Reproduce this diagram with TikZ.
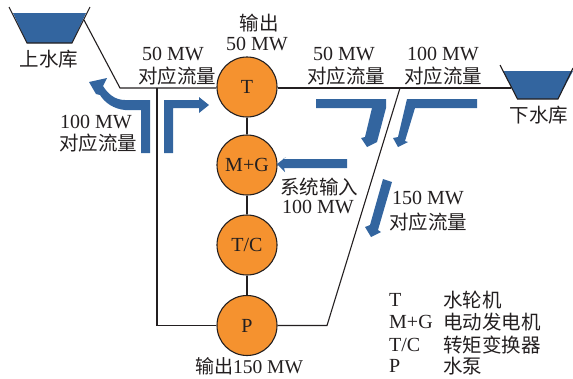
\documentclass[tikz,border=0pt]{standalone}
\usepackage{fontspec}
\setmainfont{Liberation Serif}
\newfontfamily\cjk{Noto Sans CJK SC}
\definecolor{ink}{HTML}{231F20}
\definecolor{flowblue}{HTML}{33659F}
\definecolor{unitorange}{HTML}{F5922F}
\tikzset{
  unit/.style={circle,draw=ink,fill=unitorange,line width=1.1pt,minimum size=60pt,inner sep=0pt,text=ink,font=\fontsize{20}{20}\selectfont},
  pipe/.style={draw=ink,line width=1.1pt,line join=miter},
  flow/.style={fill=flowblue,draw=none},
  lab/.style={inner sep=0pt,text=ink,font=\fontsize{20}{20}\selectfont},
  cn/.style={inner sep=0pt,text=ink,font=\cjk\fontsize{19.5}{19.5}\selectfont},
  legl/.style={inner sep=0pt,anchor=west,text=ink,font=\fontsize{20}{20}\selectfont},
  legc/.style={inner sep=0pt,anchor=west,text=ink,font=\cjk\fontsize{19.5}{19.5}\selectfont},
}
\begin{document}
\begin{tikzpicture}[x=1pt,y=-1pt]
\useasboundingbox (0,0) rectangle (573,378);
% reservoirs
\fill[flowblue] (13,13) -- (86,13) -- (72,43) -- (27,43) -- cycle;
\draw[pipe] (9,7) -- (27,43) -- (72,43) -- (90,7);
\fill[flowblue] (503,71) -- (573,71) -- (558,99) -- (517.5,99) -- cycle;
\draw[pipe] (500,65) -- (517.5,99) -- (558,99) -- (573,68);
% connector corners
\coordinate (upres) at (84,20);
\coordinate (kneeL) at (120,88);
\coordinate (teeL) at (157,88);
\coordinate (cornerL) at (157,325.5);
\coordinate (cornerR) at (327,325.5);
\coordinate (teeR) at (400,88);
\coordinate (lowres) at (511,88);
% units
\node[unit] (T) at (247,87) {T};
\node[unit] (MG) at (247,165) {M+G};
\node[unit] (TC) at (247,245) {T/C};
\node[unit] (P) at (247,325.5) {P};
\draw[pipe] (upres) -- (kneeL) -- (T.west |- kneeL);
\draw[pipe] (teeL) -- (cornerL) -- (P.west);
\draw[pipe] (T.east |- lowres) -- (lowres);
\draw[pipe] (teeR) -- (cornerR) -- (P.east);
\draw[pipe] (T) -- (MG);
\draw[pipe] (MG) -- (TC);
\draw[pipe] (TC) -- (P);
% flow arrows
\fill[flow] (141,153) -- (141,110) -- (125,110) .. controls (114,109) and (105,103) .. (100,95) -- (96,94) -- (89,82) -- (107,78) -- (103,86) .. controls (108,94) and (115,100) .. (125,100) -- (150,100) -- (150,153) -- cycle;
\fill[flow] (164,153) -- (164,100) -- (199,100) -- (199,97) -- (209,105) -- (199,113) -- (199,108) -- (173,108) -- (173,153) -- cycle;
\fill[flow] (316,99) -- (386,99) -- (386,108) -- (377,142) -- (367,147) -- (361,138) -- (365,137) -- (372,108) -- (316,108) -- cycle;
\fill[flow] (477,99) -- (407,99) -- (398,137) -- (393,138) -- (398,147) -- (408,142) -- (405,141) -- (415,108) -- (477,108) -- cycle;
\fill[flow] (383,179) -- (392,182) -- (378,230) -- (381,232) -- (371,237) -- (365,227) -- (370,225) -- cycle;
\fill[flow] (347,159) -- (347,168) -- (284,168) -- (285,172) -- (277,164) -- (286,157) -- (283,159) -- cycle;
% labels
\node[cn] (lup) at (49,59) {上水库};
\node[cn] (llow) at (539,115) {下水库};
\node[cn] (o1) at (259,23) {输出};
\node[lab] (o2) at (257,44) {50 MW};
\node[lab] (a1) at (173,54) {50 MW};
\node[cn] (a2) at (177,76) {对应流量};
\node[lab] (b1) at (96,122) {100 MW};
\node[cn] (b2) at (98,143) {对应流量};
\node[lab] (c1) at (344,54) {50 MW};
\node[cn] (c2) at (346,76) {对应流量};
\node[lab] (d1) at (443,54) {100 MW};
\node[cn] (d2) at (443,76) {对应流量};
\node[cn] (s1) at (319,187) {系统输入};
\node[lab] (s2) at (318,207) {100 MW};
\node[lab] (e1) at (428,198) {150 MW};
\node[cn] (e2) at (428,222) {对应流量};
\node[inner sep=0pt,text=ink,font=\fontsize{19.5}{19.5}\selectfont] (out) at (249,366) {{\cjk\fontsize{19}{19}\selectfont 输出}150 MW};
% legend
\node[legl] (k1) at (389,300) {T};
\node[legl] (k2) at (389,322) {M+G};
\node[legl] (k3) at (389,345) {T/C};
\node[legl] (k4) at (389,366) {P};
\node[legc] (v1) at (443,300) {水轮机};
\node[legc] (v2) at (443,322) {电动发电机};
\node[legc] (v3) at (443,345) {转矩变换器};
\node[legc] (v4) at (443,366) {水泵};
\end{tikzpicture}
\end{document}
